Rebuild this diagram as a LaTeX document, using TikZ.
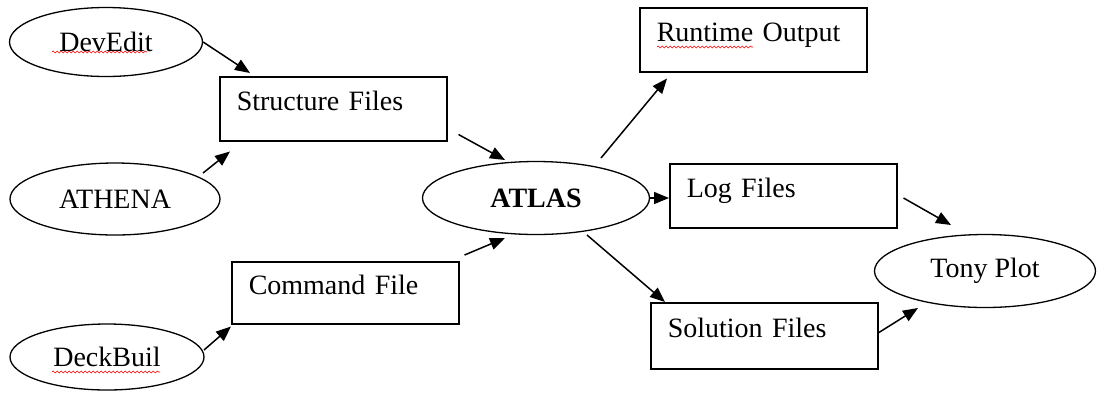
\documentclass[tikz,border=0pt]{standalone}
\usepackage{fontspec}
\setmainfont{Liberation Serif}
\usetikzlibrary{arrows.meta,calc,shapes.geometric,decorations.pathmorphing}
\begin{document}
\begin{tikzpicture}[x=1pt,y=-1pt,
  oval/.style={draw,ellipse,line width=1.3pt,inner sep=0pt},
  filebox/.style={draw,rectangle,line width=1.5pt,anchor=north west,text width=193pt,inner xsep=17pt,inner ysep=0pt,minimum height=64pt,align=left,text height=20pt,text depth=16pt},
  flow/.style={line width=1.5pt,-{Triangle[length=15pt,width=12pt]}},
  spell/.style={red,line width=0.6pt,decorate,decoration={snake,amplitude=1pt,segment length=4pt}},
  font=\fontsize{28}{34}\selectfont]
\useasboundingbox (0,0) rectangle (1097,392);

% ellipses
\node[oval,minimum width=193pt,minimum height=69pt] (dev) at (106,42) {DevEdit};
\node[oval,minimum width=210pt,minimum height=72pt] (ath) at (115,199) {ATHENA};
\node[oval,minimum width=194pt,minimum height=66pt] (deck) at (107,357) {DeckBuil};
\node[oval,minimum width=227pt,minimum height=73pt] (atlas) at (536,198) {\textbf{ATLAS}};
\node[oval,minimum width=221pt,minimum height=73pt] (tony) at (985,271) {Tony Plot};

% boxes
\node[filebox] (st) at (219,76) {Structure Files};
\node[filebox,minimum height=62pt] (cmd) at (231,261) {Command File};
\node[filebox] (run) at (639,7) {Runtime Output};
\node[filebox] (log) at (669,163) {Log Files};
\node[filebox,minimum height=66pt] (sol) at (650,302) {Solution Files};

% spelling marks
\draw[spell] ($(dev.center)+(-54,10)$) -- ++(95,0);
\draw[spell] ($(deck.center)+(-55,15)$) -- ++(108,0);
\draw[spell] ($(run.north west)+(18,40)$) -- ++(96,0);

% connectors
\draw[flow] (dev.east) -- ($(st.north west)+(31,-3)$);
\draw[flow] ($(ath.center)+(88,-26)$) -- ($(st.south west)+(11,10)$);
\draw[flow] ($(deck.center)+(97,-7)$) -- ($(cmd.south west)+(0,2)$);
\draw[flow] ($(st.south east)+(11,-7)$) -- ($(atlas.center)+(-31,-38)$);
\draw[flow] ($(cmd.north east)+(5,-6)$) -- ($(atlas.center)+(-31,40)$);
\draw[flow] ($(atlas.center)+(65,-40)$) -- ($(run.south west)+(28,6)$);
\draw[flow] (atlas.east) -- (atlas.east -| log.west);
\draw[flow] ($(atlas.center)+(51,37)$) -- ($(sol.north west)+(15,0)$);
\draw[flow] ($(log.north east)+(6,35)$) -- ($(tony.center)+(-34,-46)$);
\draw[flow] ($(sol.east)+(0,-3)$) -- ($(tony.center)+(-67,37)$);
\end{tikzpicture}
\end{document}
